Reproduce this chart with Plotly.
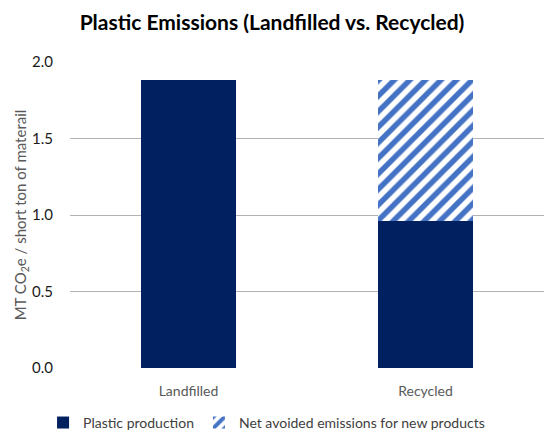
import plotly.graph_objects as go

categories = ["Landfilled", "Recycled"]
plastic_production = [1.88, 0.96]
net_avoided = [0, 0.92]
y_ticks = [0.0, 0.5, 1.0, 1.5, 2.0]
y_tick_labels = ["0.0", "0.5", "1.0", "1.5", "2.0"]

fig = go.Figure()
fig.add_trace(go.Bar(
    x=categories, y=plastic_production, name="Plastic production",
    marker=dict(color="#002060", line=dict(width=0)),
))
fig.add_trace(go.Bar(
    x=categories, y=net_avoided, name="Net avoided emissions for new products",
    marker=dict(color="white", line=dict(width=0),
                pattern=dict(shape="/", fgcolor="#4472C4", bgcolor="white",
                             fgopacity=1, size=11, solidity=0.5)),
))

fig.update_layout(
    barmode="stack",
    bargap=0.6,
    width=544, height=432,
    margin=dict(l=70, r=0, t=62, b=64, autoexpand=False),
    paper_bgcolor="white", plot_bgcolor="white",
    font=dict(family="Lato, sans-serif", color="#404040", size=14),
    title=dict(text="<b>Plastic Emissions (Landfilled vs. Recycled)</b>",
               x=0.5, xanchor="center", y=0.948, yanchor="middle",
               font=dict(size=21, color="black", family="Lato, sans-serif")),
    showlegend=True,
    legend=dict(orientation="h", xref="container", x=0.49, xanchor="center",
                yref="container", y=0.021, yanchor="middle",
                font=dict(size=14, color="#404040"), traceorder="normal",
                itemwidth=30),
    yaxis=dict(range=[0, 2.0], tickvals=y_ticks, ticktext=y_tick_labels,
               showgrid=True, gridcolor="#b3b3b3", gridwidth=1,
               zeroline=False, showline=False, ticks="",
               ticklabelstandoff=16, automargin=False,
               tickfont=dict(size=15, color="#1a1a1a"),
               title=dict(text="MT CO<sub>2</sub>e / short ton of materail",
                          font=dict(size=15, color="#595959"), standoff=1)),
    xaxis=dict(showline=False, ticks="outside", ticklen=10, tickcolor="rgba(0,0,0,0)",
               tickfont=dict(size=14, color="#595959"), automargin=False),
)

fig.write_html("out.html")
